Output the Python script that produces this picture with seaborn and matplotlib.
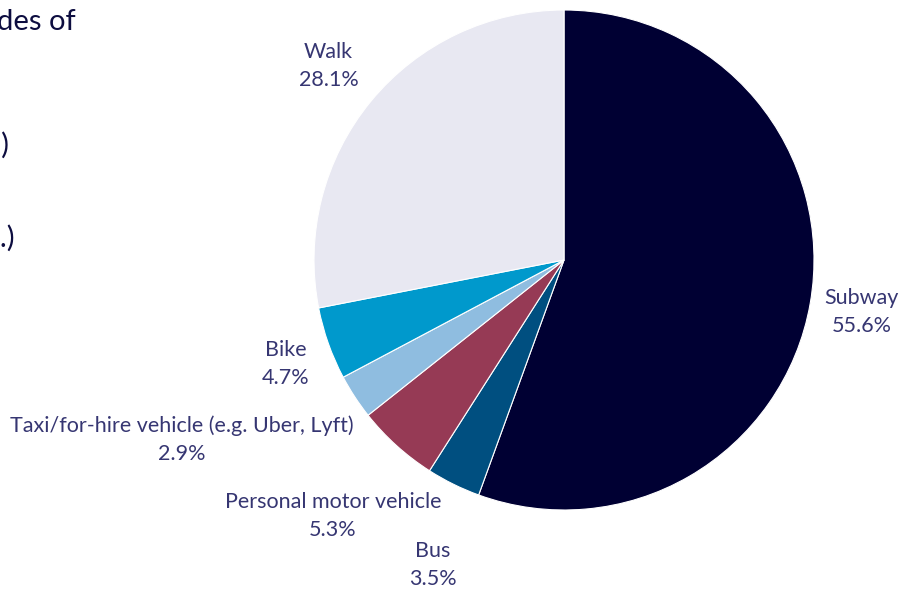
import numpy as np
import seaborn as sns
from matplotlib import pyplot as plt

#-------------------------Data-------------------------------------------------
modes = ['Subway', 'Bus', 'Personal motor vehicle',
         'Taxi/for-hire vehicle (e.g. Uber, Lyft)', 'Bike', 'Walk']
shares = [55.6, 3.5, 5.3, 2.9, 4.7, 28.1]
slice_colors = ['#000033', '#004f80', '#963a55', '#8fbde0', '#0099cc', '#e8e8f2']

#-------------------------Style------------------------------------------------
sns.set_theme(style='white')
plt.rcParams['font.family'] = ['Lato', 'DejaVu Sans']
text_color = '#363672'

#label radius and angle nudge (degrees) for each slice label
label_r = [1.21, 1.33, 1.38, 1.69, 1.19, 1.22]
label_nudge = [0, 3, 0, -8, 1, 0]

fig = plt.figure(figsize=(9.1, 5.9), dpi=100)
ax = fig.add_axes([314 / 910, 80 / 590, 500 / 910, 500 / 590])

wedges, _ = ax.pie(shares, colors=sns.color_palette(slice_colors), startangle=90,
                   counterclock=False, radius=1,
                   wedgeprops={'edgecolor': 'white', 'linewidth': 0.8})

for w, name, val, r, nud in zip(wedges, modes, shares, label_r, label_nudge):
    mid = np.deg2rad((w.theta1 + w.theta2) / 2 + nud)
    ax.text(r * np.cos(mid), r * np.sin(mid), f'{name}\n{val}%',
            ha='center', va='center', fontsize=15.5, color=text_color,
            linespacing=1.5, clip_on=False)

ax.set_xlim(-1, 1)
ax.set_ylim(-1, 1)
ax.axis('off')

#cropped title text on the left edge
fig.text(76 / 910, 1 - 22 / 590, 'Most common modes of', ha='right', va='center',
         fontsize=21, color='#0d0d40')
fig.text(9 / 910, 1 - 145 / 590, 'Subway (55.6%)', ha='right', va='center',
         fontsize=21, color='#0d0d40')
fig.text(15 / 910, 1 - 238 / 590, 'Walk (28.1%, 2 yrs.)', ha='right', va='center',
         fontsize=21, color='#0d0d40')

fig.savefig('out.png', dpi=100)
